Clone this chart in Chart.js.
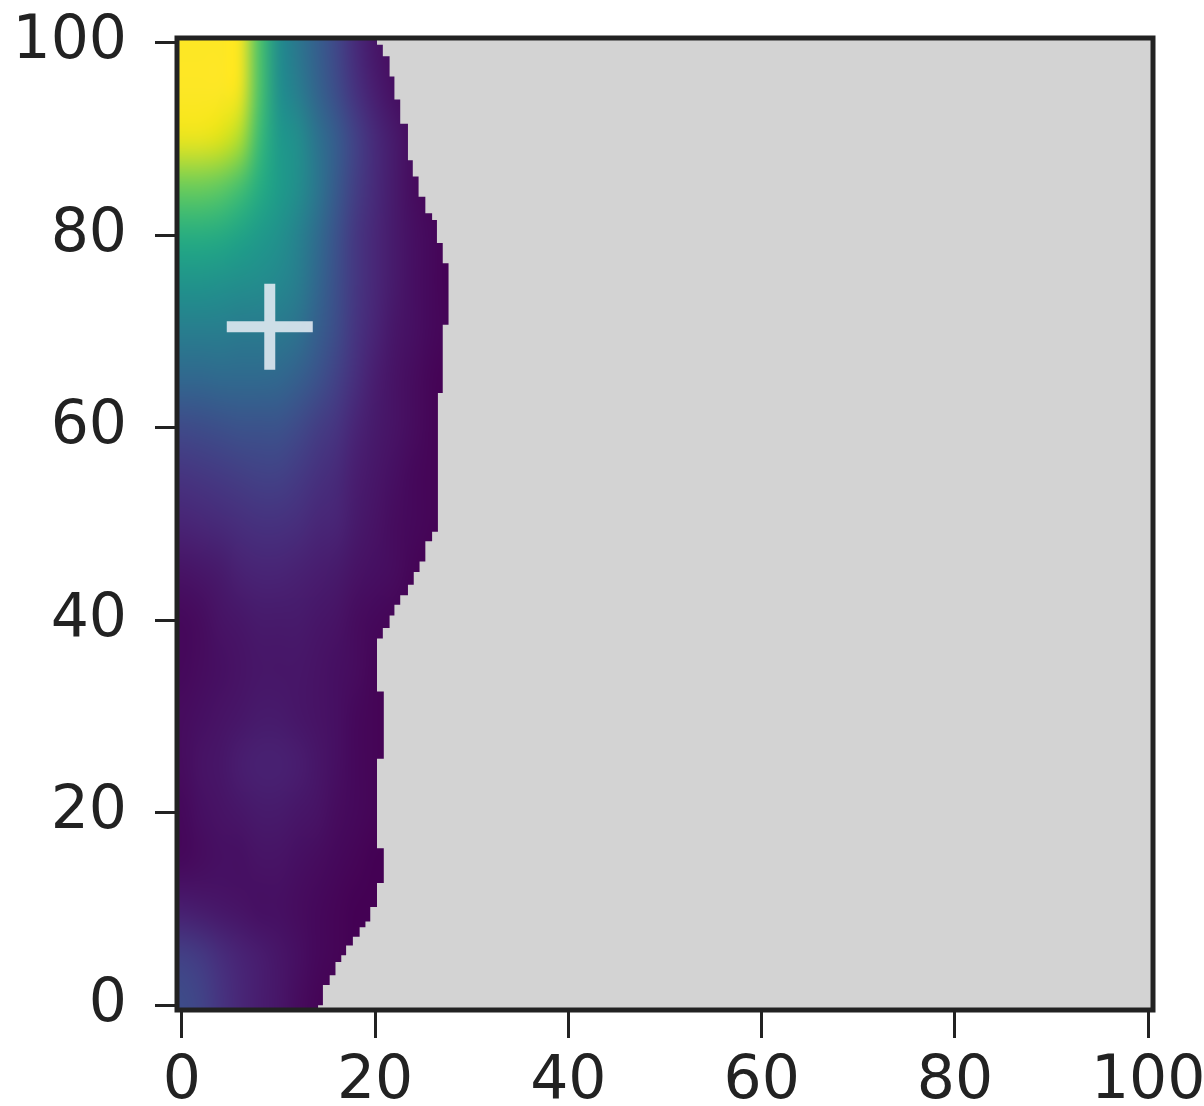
<!DOCTYPE html>
<html>
<head>
<meta charset="utf-8">
<style>
  html, body { margin: 0; padding: 0; background: #ffffff; }
  #wrap { width: 1204px; height: 1106px; }
</style>
<script src="https://cdn.jsdelivr.net/npm/chart.js@4.4.1/dist/chart.umd.min.js"></script>
</head>
<body>
<div id="wrap"><canvas id="c" width="1204" height="1106"></canvas></div>
<script>
// ---- data ----
const xTickValues = [0, 20, 40, 60, 80, 100];
const yTickValues = [0, 20, 40, 60, 80, 100];

// sampled colour-field values (0..1 on viridis), columns at fieldX, rows at fieldY
const fieldX = [0, 2, 4, 6, 8, 10, 12, 14, 16, 18, 20, 22, 24, 26, 28];
const fieldY = [100, 95, 90, 85, 80, 75, 70, 65, 60, 55, 50, 45, 40, 35, 30, 25, 20, 15, 10, 5, 0];
const fieldValues = [
  [1.00,1.00,1.00,0.99,0.72,0.49,0.39,0.30,0.21,0.12,0.06,0.03,0.01,0.00,0.00],
  [1.00,1.00,1.00,0.98,0.72,0.50,0.42,0.32,0.23,0.14,0.08,0.04,0.02,0.00,0.00],
  [0.97,0.97,0.95,0.88,0.68,0.54,0.49,0.38,0.29,0.19,0.12,0.07,0.03,0.01,0.00],
  [0.77,0.77,0.75,0.70,0.62,0.55,0.49,0.39,0.28,0.18,0.12,0.07,0.03,0.01,0.00],
  [0.62,0.62,0.61,0.58,0.54,0.50,0.44,0.35,0.25,0.16,0.11,0.07,0.04,0.02,0.00],
  [0.51,0.51,0.50,0.49,0.48,0.46,0.42,0.33,0.24,0.16,0.11,0.07,0.04,0.02,0.00],
  [0.42,0.42,0.42,0.41,0.41,0.40,0.37,0.30,0.23,0.15,0.10,0.06,0.04,0.02,0.01],
  [0.33,0.33,0.34,0.34,0.34,0.33,0.30,0.25,0.19,0.13,0.08,0.05,0.03,0.01,0.00],
  [0.22,0.23,0.24,0.25,0.25,0.25,0.22,0.18,0.15,0.10,0.07,0.05,0.03,0.01,0.00],
  [0.15,0.16,0.17,0.18,0.19,0.19,0.17,0.14,0.12,0.08,0.06,0.04,0.02,0.01,0.00],
  [0.10,0.11,0.12,0.13,0.14,0.14,0.13,0.11,0.10,0.07,0.05,0.03,0.02,0.01,0.00],
  [0.05,0.06,0.07,0.09,0.10,0.10,0.09,0.08,0.07,0.05,0.04,0.03,0.01,0.00,0.00],
  [0.02,0.03,0.05,0.06,0.07,0.07,0.07,0.06,0.05,0.03,0.02,0.01,0.00,0.00,0.00],
  [0.02,0.03,0.04,0.05,0.06,0.06,0.06,0.05,0.04,0.03,0.01,0.00,0.00,0.00,0.00],
  [0.03,0.04,0.05,0.06,0.07,0.07,0.06,0.05,0.04,0.02,0.01,0.00,0.00,0.00,0.00],
  [0.03,0.05,0.06,0.08,0.09,0.09,0.08,0.06,0.04,0.02,0.01,0.00,0.00,0.00,0.00],
  [0.02,0.04,0.05,0.06,0.07,0.07,0.06,0.05,0.03,0.02,0.01,0.00,0.00,0.00,0.00],
  [0.02,0.03,0.04,0.04,0.05,0.05,0.04,0.03,0.02,0.01,0.00,0.00,0.00,0.00,0.00],
  [0.08,0.07,0.06,0.05,0.04,0.04,0.03,0.02,0.01,0.00,0.00,0.00,0.00,0.00,0.00],
  [0.19,0.17,0.13,0.10,0.08,0.06,0.04,0.02,0.01,0.00,0.00,0.00,0.00,0.00,0.00],
  [0.23,0.20,0.15,0.11,0.08,0.06,0.03,0.01,0.00,0.00,0.00,0.00,0.00,0.00,0.00]
];

// right edge of the coloured region: segment i runs from edgeTopY[i] down to edgeTopY[i+1]
const edgeTopY = [100.5, 99.8, 98.6, 96.5, 94.1, 91.6, 87.8, 86.1, 84.0, 82.3, 81.6, 79.2, 77.1,
  70.7, 63.6, 49.2, 48.2, 46.1, 45.0, 43.7, 42.6, 41.6, 40.5, 39.2, 38.1, 32.6, 25.6, 16.3, 12.7,
  10.2, 8.7, 8.1, 7.1, 6.2, 5.2, 4.5, 3.1, 2.1, 0.0];
const edgeX = [20.2, 20.8, 21.5, 22.0, 22.6, 23.4, 23.9, 24.5, 25.2, 25.9, 26.4, 27.0, 27.6,
  27.0, 26.5, 25.9, 25.2, 24.6, 24.0, 23.4, 22.6, 22.0, 21.5, 20.8, 20.2, 20.9, 20.2, 20.9, 20.2,
  19.5, 19.0, 18.4, 17.7, 17.0, 16.5, 15.9, 15.3, 14.6, 14.1];

// the "+" marker
const markerX = [9.1];
const markerY = [70.5];

// ---- style ----
const AX_MIN = -0.5, AX_MAX = 100.5;
const viridisStops = ['#440154','#471365','#482475','#463480','#414487','#3b528b','#355f8d',
  '#2f6c8e','#2a788e','#25848e','#21918c','#1e9c89','#22a884','#2fb47c','#44bf70','#5ec962',
  '#7ad151','#9bd93c','#bddf26','#dfe318','#fde725'];
function hexRGB(h){ return [parseInt(h.slice(1,3),16), parseInt(h.slice(3,5),16), parseInt(h.slice(5,7),16)]; }
const stopRGB = viridisStops.map(hexRGB);
function viridis(t){
  t = Math.max(0, Math.min(1, t));
  const f = t * (stopRGB.length - 1);
  const i = Math.min(stopRGB.length - 2, Math.floor(f));
  const u = f - i;
  const a = stopRGB[i], b = stopRGB[i+1];
  return [0,1,2].map(k => Math.round(a[k] + (b[k]-a[k]) * u));
}

const FONT = "'DejaVu Sans', sans-serif";
const INK = '#222222';

const heatPlugin = {
  id: 'heat',
  beforeDatasetsDraw(chart) {
    const { ctx, chartArea: a, scales: { x, y } } = chart;
    const X = v => x.getPixelForValue(v), Y = v => y.getPixelForValue(v);
    ctx.save();
    ctx.fillStyle = '#d3d3d3';
    ctx.fillRect(a.left, a.top, a.right - a.left, a.bottom - a.top);

    ctx.beginPath();
    ctx.moveTo(X(AX_MIN), Y(edgeTopY[0]));
    for (let i = 0; i < edgeX.length; i++) {
      const top = edgeTopY[i];
      const bot = (i + 1 < edgeTopY.length) ? edgeTopY[i + 1] : AX_MIN;
      ctx.lineTo(X(edgeX[i]), Y(top));
      ctx.lineTo(X(edgeX[i]), Y(bot));
    }
    ctx.lineTo(X(AX_MIN), Y(AX_MIN));
    ctx.closePath();
    ctx.clip();

    const off = document.createElement('canvas');
    off.width = fieldX.length; off.height = fieldY.length;
    const octx = off.getContext('2d');
    const img = octx.createImageData(off.width, off.height);
    for (let r = 0; r < fieldY.length; r++) {
      for (let c = 0; c < fieldX.length; c++) {
        const col = viridis(fieldValues[r][c]);
        const k = (r * off.width + c) * 4;
        img.data[k] = col[0]; img.data[k+1] = col[1]; img.data[k+2] = col[2]; img.data[k+3] = 255;
      }
    }
    octx.putImageData(img, 0, 0);
    ctx.imageSmoothingEnabled = true;
    ctx.imageSmoothingQuality = 'high';
    const dx = fieldX[1] - fieldX[0], dy = fieldY[0] - fieldY[1];
    const x0 = X(fieldX[0] - dx / 2), x1 = X(fieldX[fieldX.length - 1] + dx / 2);
    const y0 = Y(fieldY[0] + dy / 2), y1 = Y(fieldY[fieldY.length - 1] - dy / 2);
    ctx.drawImage(off, x0, y0, x1 - x0, y1 - y0);
    ctx.restore();
  },
  afterDatasetsDraw(chart) {
    const { ctx, chartArea: a } = chart;
    ctx.save();
    ctx.strokeStyle = INK;
    ctx.lineWidth = 5;
    ctx.strokeRect(a.left, a.top, a.right - a.left, a.bottom - a.top);
    ctx.restore();
  }
};

function zeroPad(s) { s.paddingTop = 0; s.paddingBottom = 0; s.paddingLeft = 0; s.paddingRight = 0; }

new Chart(document.getElementById('c'), {
  type: 'scatter',
  data: {
    datasets: [{
      data: markerX.map((v, i) => ({ x: v, y: markerY[i] })),
      pointStyle: 'cross',
      pointRadius: 43,
      pointHoverRadius: 43,
      borderWidth: 11,
      borderColor: 'rgba(228,236,244,0.88)',
      backgroundColor: 'rgba(228,236,244,0.88)'
    }]
  },
  options: {
    responsive: false,
    devicePixelRatio: 1,
    animation: false,
    events: [],
    layout: { autoPadding: false, padding: { top: 38, right: 51, left: 0, bottom: 0 } },
    plugins: { legend: { display: false }, tooltip: { enabled: false }, title: { display: false } },
    scales: {
      x: {
        type: 'linear', min: AX_MIN, max: AX_MAX,
        afterBuildTicks: s => { s.ticks = xTickValues.map(v => ({ value: v })); },
        afterFit: s => { s.height = 96; zeroPad(s); },
        ticks: { font: { family: FONT, size: 60 }, color: INK, padding: 8, maxRotation: 0, autoSkip: false,
                 callback: v => String(v) },
        grid: { drawOnChartArea: false, drawTicks: true, tickLength: 28, tickWidth: 3, tickColor: INK },
        border: { display: false }
      },
      y: {
        type: 'linear', min: AX_MIN, max: AX_MAX,
        afterBuildTicks: s => { s.ticks = yTickValues.map(v => ({ value: v })); },
        afterFit: s => { s.width = 177; zeroPad(s); },
        ticks: { font: { family: FONT, size: 60 }, color: INK, padding: 28, autoSkip: false,
                 callback: v => String(v) },
        grid: { drawOnChartArea: false, drawTicks: true, tickLength: 22, tickWidth: 3, tickColor: INK },
        border: { display: false }
      }
    }
  },
  plugins: [heatPlugin]
});
</script>
</body>
</html>
